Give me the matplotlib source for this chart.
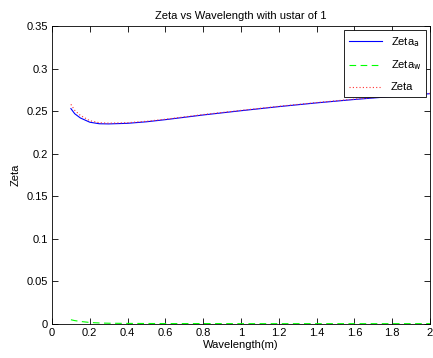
import numpy as np
import matplotlib.pyplot as plt

# values
wavelength = [0.1, 0.12, 0.15, 0.2, 0.25, 0.3, 0.4, 0.5, 0.6, 0.8, 1.0, 1.2, 1.4, 1.6, 1.8, 2.0]
zeta_a = [0.253, 0.247, 0.242, 0.237, 0.2352, 0.235, 0.2357, 0.2375, 0.240, 0.2455, 0.2505, 0.2553, 0.2597, 0.2637, 0.2672, 0.2705]
zeta_w = [0.005, 0.004, 0.003, 0.0018, 0.0012, 0.0009, 0.0007, 0.0006, 0.0005, 0.0005, 0.0004, 0.0004, 0.0004, 0.0004, 0.0004, 0.0004]
zeta = list(np.array(zeta_a) + np.array(zeta_w))

plt.rcParams['font.family'] = ['Liberation Sans', 'DejaVu Sans']
plt.rcParams['font.size'] = 7.5

fig = plt.figure(figsize=(4.33, 3.58), dpi=100)
ax = fig.add_axes([52 / 433, 1 - 324 / 358, (430 - 52) / 433, (324 - 26) / 358])

ax.plot(wavelength, zeta_a, color='#0000ff', lw=0.8, label='Zeta$_{\\mathrm{a}}$')
ax.plot(wavelength, zeta_w, color='#00ff00', lw=0.8, ls=(0, (6, 4)), label='Zeta$_{\\mathrm{w}}$')
ax.plot(wavelength, zeta, color='#ff3030', lw=0.8, ls=(0, (1, 2)), label='Zeta')

ax.set_xlim(0, 2)
ax.set_ylim(0, 0.35)
ax.set_xticks(np.arange(0, 2.01, 0.2))
ax.set_xticklabels(['0', '0.2', '0.4', '0.6', '0.8', '1', '1.2', '1.4', '1.6', '1.8', '2'])
ax.set_yticks(np.arange(0, 0.351, 0.05))
ax.set_yticklabels(['0', '0.05', '0.1', '0.15', '0.2', '0.25', '0.3', '0.35'])
ax.tick_params(direction='in', top=True, right=True, length=4, width=0.6, labelsize=8, pad=3)
for s in ax.spines.values():
    s.set_linewidth(0.6)

ax.set_xlabel('Wavelength(m)', fontsize=8, labelpad=1)
ax.set_ylabel('Zeta', fontsize=8, labelpad=4)
ax.set_title('Zeta vs Wavelength with ustar of 1', fontsize=8, pad=5)

leg = ax.legend(loc='upper right', fancybox=False, edgecolor='black', framealpha=1,
                fontsize=8, handlelength=3.0, borderaxespad=0.4, labelspacing=0.9)
leg.get_frame().set_linewidth(0.6)

fig.savefig('out.png', dpi=100)
